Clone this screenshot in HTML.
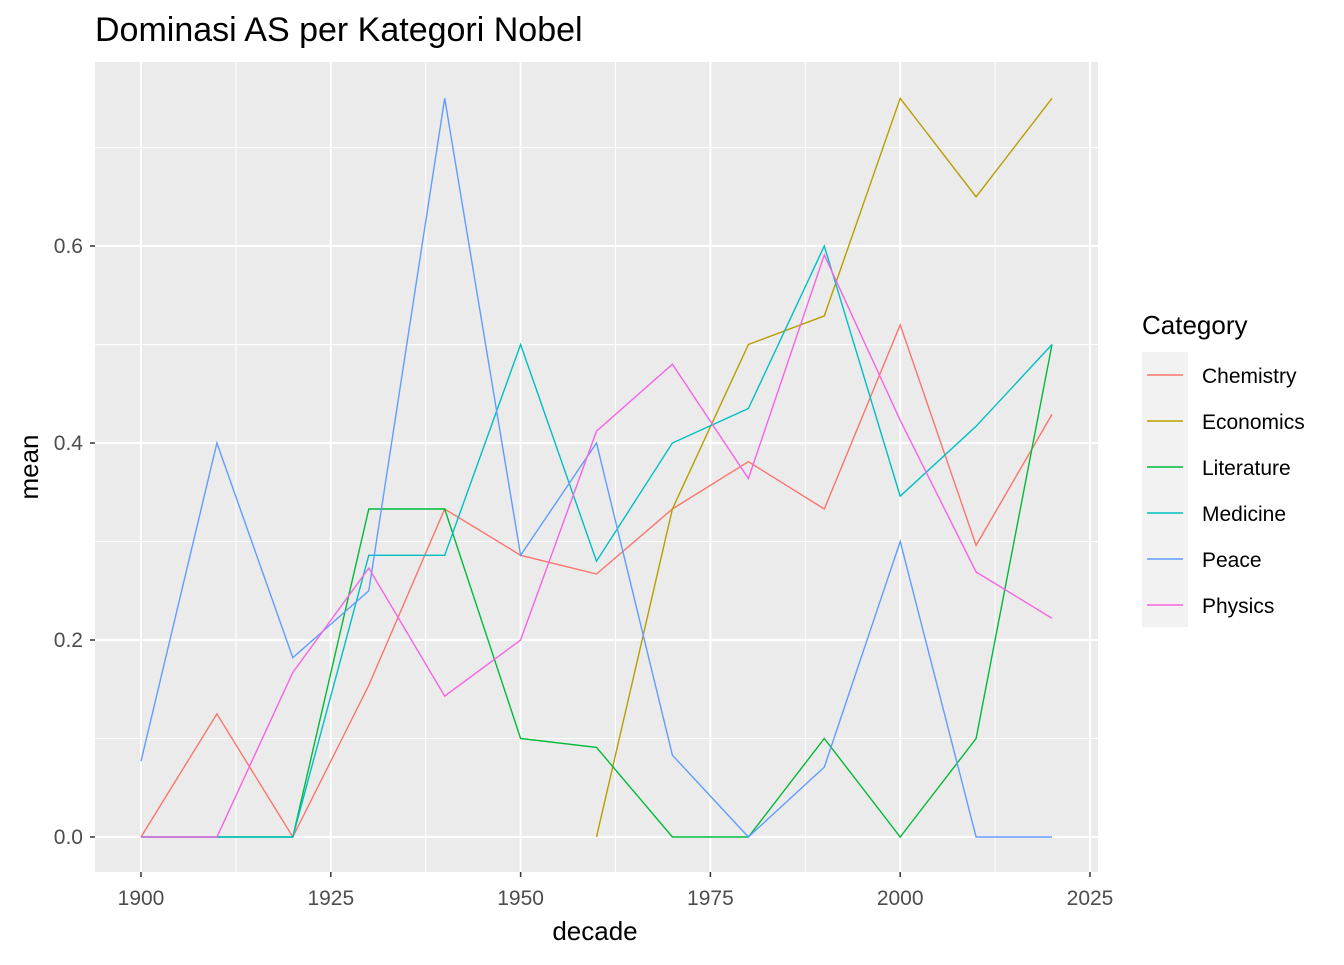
<!DOCTYPE html>
<html><head><meta charset="utf-8"><style>
body{margin:0;background:#fff;}
svg text{font-family:"Liberation Sans",Arial,sans-serif;}
</style></head><body>
<svg id="chart" width="1344" height="960" xmlns="http://www.w3.org/2000/svg">
<g id="grid"></g><g id="lines"></g><g id="axes"></g><g id="legend"></g>
<text x="95" y="41" font-size="34" fill="#000">Dominasi AS per Kategori Nobel</text>
<text x="595" y="940" font-size="26" text-anchor="middle" fill="#000">decade</text>
<text x="38" y="467" font-size="26" text-anchor="middle" fill="#000" transform="rotate(-90 38 467)">mean</text>
</svg>
<script>
const decades=[1900,1910,1920,1930,1940,1950,1960,1970,1980,1990,2000,2010,2020];
const categories=["Chemistry","Economics","Literature","Medicine","Peace","Physics"];
const colors=["#F8766D","#B79F00","#00BA38","#00BFC4","#619CFF","#F564E3"];
const chemistry=[0,0.125,0,0.154,0.333,0.286,0.267,0.333,0.381,0.333,0.52,0.296,0.429];
const economics=[null,null,null,null,null,null,0,0.333,0.5,0.529,0.75,0.65,0.75];
const literature=[0,0,0,0.333,0.333,0.1,0.091,0,0,0.1,0,0.1,0.5];
const medicine=[0,0,0,0.286,0.286,0.5,0.28,0.4,0.435,0.6,0.346,0.417,0.5];
const peace=[0.077,0.4,0.182,0.25,0.75,0.286,0.4,0.083,0,0.071,0.3,0,0];
const physics=[0,0,0.167,0.273,0.143,0.2,0.412,0.48,0.364,0.591,0.423,0.269,0.222];
const xTicks=[1900,1925,1950,1975,2000,2025];
const yTicks=[0,0.2,0.4,0.6];
const series=[chemistry,economics,literature,medicine,peace,physics];
const NS="http://www.w3.org/2000/svg";
const PL=95,PR=1098,PT=62,PB=872;
const X=v=>141+(v-1900)*7.592;
const Y=v=>837-v*985;
function mk(tag,attrs,parent){const e=document.createElementNS(NS,tag);for(const k in attrs)e.setAttribute(k,attrs[k]);parent.appendChild(e);return e;}
const grid=document.getElementById('grid');
const bg=mk('rect',{x:PL,y:PT,width:PR-PL,height:PB-PT,fill:'#EBEBEB'},grid);


for(let i=0;i<xTicks.length-1;i++){const m=(xTicks[i]+xTicks[i+1])/2;
 const l=mk('line',{x1:X(m),x2:X(m),y1:PT,y2:PB,stroke:'#fff','stroke-width':1},grid);
 
 }
for(let i=0;i<yTicks.length;i++){const m=yTicks[i]+0.1;
 const l=mk('line',{x1:PL,x2:PR,y1:Y(m),y2:Y(m),stroke:'#fff','stroke-width':1},grid);
 
 }
const axes=document.getElementById('axes');
xTicks.forEach(t=>{
 const l=mk('line',{x1:X(t),x2:X(t),y1:PT,y2:PB,stroke:'#fff','stroke-width':2},grid);
 
 
 const k=mk('line',{x1:X(t),x2:X(t),y1:PB,y2:PB+5,stroke:'#333','stroke-width':1.5},axes);
 
 
 const tx=mk('text',{x:X(t),y:PB+33,'font-size':21,'text-anchor':'middle',fill:'#4D4D4D'},axes);tx.textContent=t;
 
 
});
yTicks.forEach(t=>{
 const l=mk('line',{x1:PL,x2:PR,y1:Y(t),y2:Y(t),stroke:'#fff','stroke-width':2},grid);
 
 
 const k=mk('line',{x1:PL-5,x2:PL,y1:Y(t),y2:Y(t),stroke:'#333','stroke-width':1.5},axes);
 
 
 const tx=mk('text',{x:PL-12,y:Y(t)+7,'font-size':21,'text-anchor':'end',fill:'#4D4D4D'},axes);tx.textContent=t.toFixed(1);
 
 
});
const lines=document.getElementById('lines');
series.forEach((s,i)=>{
 const pts=[];s.forEach((v,j)=>{if(v!==null)pts.push(X(decades[j]).toFixed(1)+','+Y(v).toFixed(1));});
 const p=mk('polyline',{points:pts.join(' '),fill:'none',stroke:colors[i],'stroke-width':1.4},lines);
 
 
});
const lg=document.getElementById('legend');
const lt=mk('text',{x:1142,y:334,'font-size':26,fill:'#000'},lg);lt.textContent='Category';


const lb=mk('rect',{x:1142,y:352,width:46,height:275,fill:'#F2F2F2'},lg);


categories.forEach((c,i)=>{
 const yy=375+i*46;
 const l=mk('line',{x1:1147,x2:1183,y1:yy,y2:yy,stroke:colors[i],'stroke-width':1.4},lg);
 
 
 const t=mk('text',{x:1202,y:yy+8,'font-size':21,fill:'#000'},lg);t.textContent=c;
 
 
});
</script>
</body></html>
